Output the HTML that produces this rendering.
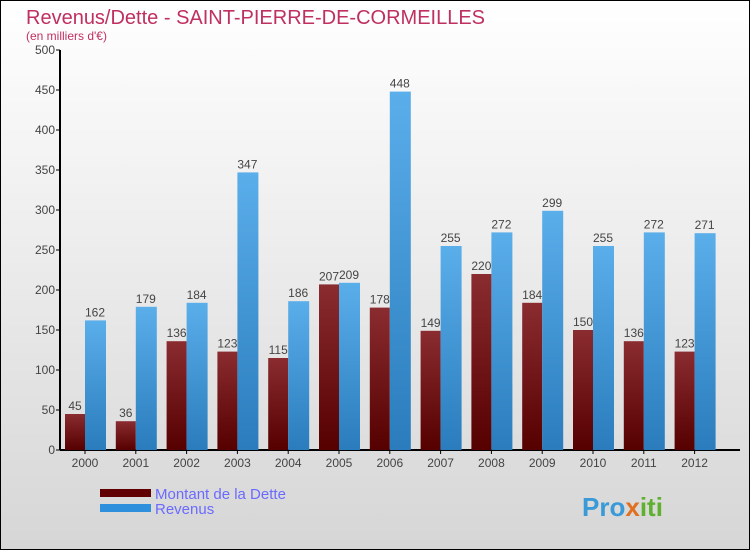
<!DOCTYPE html>
<html><head><meta charset="utf-8"><style>
body{margin:0}
#c{width:750px;height:550px;position:relative;box-sizing:border-box;border:1px solid #000;background:linear-gradient(#fff,#d6d6d6);font-family:"Liberation Sans",sans-serif;overflow:hidden}
</style></head><body>
<div id="c">
<svg width="750" height="550" style="position:absolute;left:-1px;top:-1px">
<defs>
<linearGradient id="gd" x1="0" y1="0" x2="0" y2="1"><stop offset="0" stop-color="#8a2c30"/><stop offset="1" stop-color="#560000"/></linearGradient>
<linearGradient id="gr" x1="0" y1="0" x2="0" y2="1"><stop offset="0" stop-color="#5aaeea"/><stop offset="1" stop-color="#2a7cbc"/></linearGradient>
</defs>
<text x="26" y="24" font-size="20" fill="#c0305f">Revenus/Dette - SAINT-PIERRE-DE-CORMEILLES</text>
<text x="26" y="40" font-size="12" fill="#c0305f">(en milliers d'€)</text>
<g id="axes"></g>
<g id="bars"></g>
<rect x="100" y="489" width="51" height="8" fill="#600000"/>
<text x="155" y="499" font-size="15" fill="#6a6aff">Montant de la Dette</text>
<rect x="100" y="504" width="51" height="8" fill="#2e90dc"/>
<text x="155" y="514" font-size="15" fill="#6a6aff">Revenus</text>
<text x="582" y="516" font-size="26" font-weight="bold" fill="#3a9ad8">Pro<tspan fill="#e07020">x</tspan><tspan fill="#60b030">iti</tspan></text>
</svg>
</div>
<script>
const years=["2000","2001","2002","2003","2004","2005","2006","2007","2008","2009","2010","2011","2012"];
const dette=[45,36,136,123,115,207,178,149,220,184,150,136,123];
const revenus=[162,179,184,347,186,209,448,255,272,299,255,272,271];
const ticks=[0,50,100,150,200,250,300,350,400,450,500];
const NS="http://www.w3.org/2000/svg";
const y0=450,sc=0.8,x0=60,step=50.8;
const yv=v=>y0-v*sc;
const xc=i=>85+i*step;
const ax=document.getElementById('axes'),bg=document.getElementById('bars');
function mk(t,a,p){const e=document.createElementNS(NS,t);for(const k in a)e.setAttribute(k,a[k]);p.appendChild(e);return e;}
let l=mk('line',{x1:x0,y1:yv(500),x2:x0,y2:y0,stroke:'#000','stroke-width':2},ax);


l=mk('line',{x1:x0,y1:y0,x2:740,y2:y0,stroke:'#000','stroke-width':2},ax);


ticks.forEach(t=>{
 mk('line',{x1:x0-4,y1:yv(t),x2:x0,y2:yv(t),stroke:'#000'},ax);
 const tx=mk('text',{x:x0-5,y:yv(t)+4,'font-size':12,fill:'#444','text-anchor':'end'},ax);
 tx.textContent=t;
 
 
});
years.forEach((yr,i)=>{
 const c=xc(i);
 mk('line',{x1:c,y1:y0,x2:c,y2:y0+4,stroke:'#000'},ax);
 const tx=mk('text',{x:c,y:y0+17,'font-size':12,fill:'#444','text-anchor':'middle'},ax);
 tx.textContent=yr;
 
 
 const b1=mk('rect',{x:c-20,y:yv(dette[i]),width:20,height:dette[i]*sc,fill:'url(#gd)'},bg);
 
 
 const b2=mk('rect',{x:c,y:yv(revenus[i]),width:21,height:revenus[i]*sc,fill:'url(#gr)'},bg);
 
 
 const t1=mk('text',{x:c-10,y:yv(dette[i])-4,'font-size':12,fill:'#444','text-anchor':'middle'},bg);
 t1.textContent=dette[i];
 
 
 const t2=mk('text',{x:c+10,y:yv(revenus[i])-4,'font-size':12,fill:'#444','text-anchor':'middle'},bg);
 t2.textContent=revenus[i];
 
 
});
</script>
</body></html>
